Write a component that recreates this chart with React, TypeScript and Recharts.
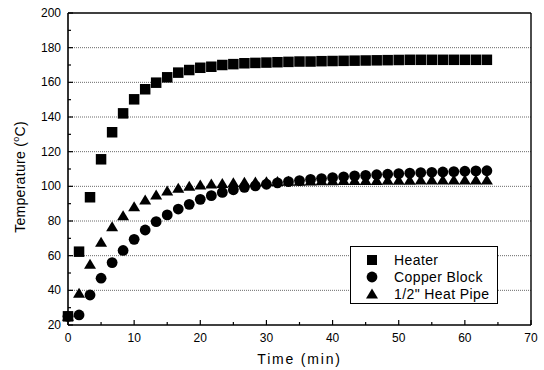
import React from 'react';
import { ScatterChart, Scatter, XAxis, YAxis, ReferenceLine } from 'recharts';

const times = [
  0, 1.67, 3.33, 5, 6.67, 8.33, 10, 11.67, 13.33, 15, 16.67, 18.33, 20, 21.67, 23.33, 25, 26.67,
  28.33, 30, 31.67, 33.33, 35, 36.67, 38.33, 40, 41.67, 43.33, 45, 46.67, 48.33, 50, 51.67, 53.33,
  55, 56.67, 58.33, 60, 61.67, 63.33,
];

const heater = [
  25, 62.3, 93.7, 115.6, 131.2, 142.1, 150.2, 156, 159.8, 162.9, 165.6, 167.1, 168.4, 169, 170,
  170.5, 171, 171.2, 171.4, 171.6, 171.8, 172, 172, 172.2, 172.3, 172.4, 172.5, 172.6, 172.7, 172.8,
  172.9, 173, 173, 173, 173, 173, 173, 173, 173,
];

const copper = [
  25, 25.8, 37.3, 47, 56, 63, 69.4, 74.8, 79.6, 83.5, 86.9, 89.6, 92.5, 94.6, 96.5, 98, 99.4, 100.3,
  101.2, 102, 102.7, 103.3, 104, 104.5, 105, 105.5, 106, 106.3, 106.7, 107, 107.3, 107.6, 107.9,
  108.1, 108.3, 108.5, 108.7, 108.9, 109,
];

const heatPipe = [
  25, 38.3, 55, 67.7, 76.7, 83, 88.2, 92.1, 95, 97.3, 98.9, 100, 100.8, 101.3, 101.7, 102, 102.3,
  102.5, 102.7, 102.8, 103, 103, 103.1, 103.2, 103.2, 103.3, 103.3, 103.4, 103.4, 103.5, 103.5,
  103.5, 103.6, 103.6, 103.6, 103.7, 103.7, 103.7, 103.7,
];

const seriesNames = ['Heater', 'Copper Block', '1/2" Heat Pipe'];
const xTicks = [0, 5, 10, 15, 20, 25, 30, 35, 40, 45, 50, 55, 60, 65, 70];
const yTicks = [20, 30, 40, 50, 60, 70, 80, 90, 100, 110, 120, 130, 140, 150, 160, 170, 180, 190, 200];
const gridValues = [40, 60, 80, 100, 120, 140, 160, 180];

const FONT = '"Liberation Sans", Arial, sans-serif';

const toPoints = (vals: number[]) => times.map((t, i) => ({ t, v: vals[i] }));

const Square = (p: any) => (
  <rect x={p.cx - 5.25} y={p.cy - 5.25} width={10.5} height={10.5} fill="#000" />
);
const Dot = (p: any) => <circle cx={p.cx} cy={p.cy} r={5.4} fill="#000" />;
const Tri = (p: any) => (
  <polygon
    points={`${p.cx},${p.cy - 5.5} ${p.cx + 6},${p.cy + 4.5} ${p.cx - 6},${p.cy + 4.5}`}
    fill="#000"
  />
);

const XTick = ({ x, y, payload }: any) => {
  const major = payload.value % 10 === 0;
  return (
    <g>
      <line x1={x} x2={x} y1={y} y2={y - (major ? 5 : 3)} stroke="#000" strokeWidth={1.2} />
      {major && (
        <text x={x} y={y + 17} textAnchor="middle" fontSize={12} fontFamily={FONT} fill="#000">
          {payload.value}
        </text>
      )}
    </g>
  );
};

const YTick = ({ x, y, payload }: any) => {
  const major = payload.value % 20 === 0;
  return (
    <g>
      <line x1={x} x2={x + (major ? 5 : 3)} y1={y} y2={y} stroke="#000" strokeWidth={1.2} />
      {major && (
        <text x={x - 7} y={y + 4} textAnchor="end" fontSize={12} fontFamily={FONT} fill="#000">
          {payload.value}
        </text>
      )}
    </g>
  );
};

const XLabel = ({ viewBox }: any) => (
  <text
    x={viewBox.x + viewBox.width / 2}
    y={viewBox.y + 39}
    textAnchor="middle"
    fontSize={14}
    letterSpacing={1.8}
    fontFamily={FONT}
    fill="#000"
  >
    Time (min)
  </text>
);

const YLabel = ({ viewBox }: any) => {
  const cy = viewBox.y + viewBox.height / 2 + 8;
  return (
    <text
      x={25}
      y={cy}
      transform={`rotate(-90, 25, ${cy})`}
      textAnchor="middle"
      fontSize={14}
      letterSpacing={0.3}
      fontFamily={FONT}
      fill="#000"
    >
      Temperature (
      <tspan fontSize={9} dy={-6}>o</tspan>
      <tspan dy={6}>C)</tspan>
    </text>
  );
};

const legendIcons = [
  <rect x={5} y={5} width={10} height={10} fill="#000" />,
  <circle cx={10} cy={10} r={5.4} fill="#000" />,
  <polygon points="10,4.5 16,14.5 4,14.5" fill="#000" />,
];

const App = () => (
  <div style={{ position: 'absolute', left: 0, top: 0, width: 544, height: 370, background: '#fff' }}>
    <ScatterChart width={544} height={370} margin={{ top: 13, right: 13, bottom: 0, left: 0 }}>
      <XAxis
        type="number"
        dataKey="t"
        domain={[0, 70]}
        ticks={xTicks}
        interval={0}
        tickSize={0}
        tickMargin={0}
        tick={<XTick />}
        height={45}
        axisLine={{ stroke: '#000', strokeWidth: 1.6 }}
        tickLine={false}
        label={<XLabel />}
      />
      <YAxis
        type="number"
        dataKey="v"
        domain={[20, 200]}
        ticks={yTicks}
        interval={0}
        tickSize={0}
        tickMargin={0}
        tick={<YTick />}
        width={68}
        axisLine={{ stroke: '#000', strokeWidth: 1.6 }}
        tickLine={false}
        label={<YLabel />}
      />
      {gridValues.map((g) => (
        <ReferenceLine key={g} y={g} stroke="#444" strokeWidth={0.8} strokeDasharray="1 1" />
      ))}
      <ReferenceLine y={200} stroke="#000" strokeWidth={1.4} />
      <ReferenceLine x={70} stroke="#000" strokeWidth={1.4} />
      <Scatter name={seriesNames[0]} data={toPoints(heater)} shape={<Square />} isAnimationActive={false} />
      <Scatter name={seriesNames[1]} data={toPoints(copper)} shape={<Dot />} isAnimationActive={false} />
      <Scatter name={seriesNames[2]} data={toPoints(heatPipe)} shape={<Tri />} isAnimationActive={false} />
    </ScatterChart>
    <div
      style={{
        position: 'absolute',
        left: 350,
        top: 246,
        width: 148,
        height: 58,
        border: '1px solid #000',
        background: '#fff',
        fontFamily: FONT,
        fontSize: 14,
        letterSpacing: 0.4,
        paddingTop: 4,
        boxSizing: 'border-box',
      }}
    >
      {seriesNames.map((n, i) => (
        <div key={n} style={{ display: 'flex', alignItems: 'center', height: 17 }}>
          <svg width={20} height={20} style={{ marginLeft: 11 }}>
            {legendIcons[i]}
          </svg>
          <span style={{ marginLeft: 12 }}>{n}</span>
        </div>
      ))}
    </div>
  </div>
);

export default App;
